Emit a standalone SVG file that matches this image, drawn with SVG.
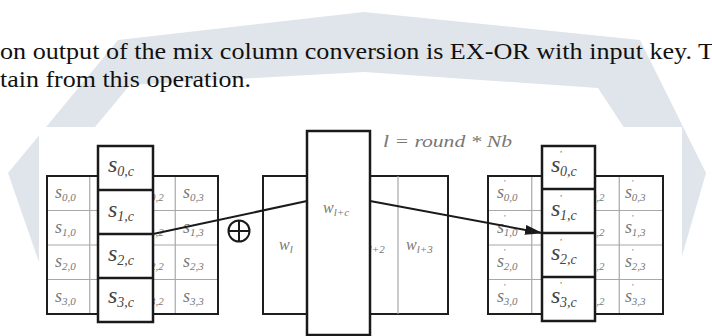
<svg xmlns="http://www.w3.org/2000/svg" width="712" height="336" viewBox="0 0 712 336" font-family="'Liberation Serif', 'DejaVu Serif', serif">
<style>
text{font-family:'Liberation Serif','Times New Roman','DejaVu Serif',serif}
.body{font-size:23px;fill:#111}
.lab{font-style:italic;font-size:18px;fill:#777}
.sub{font-size:11px}
.col{font-style:italic;font-size:24px;fill:#444}
.csub{font-size:14px}
.pr{font-size:9px;font-style:normal}
.outer{fill:none;stroke:#1e1e1e;stroke-width:2}
.box{fill:#fff;stroke:#1a1a1a;stroke-width:2.5}
.thin{stroke:#a8a8a8;stroke-width:1.2}
.sep{stroke:#1a1a1a;stroke-width:2.5}
.wl{font-style:italic;font-size:16px;fill:#777}
.conn{fill:none;stroke:#1a1a1a;stroke-width:2}
</style>
<defs>
<marker id="ah" markerUnits="userSpaceOnUse" markerWidth="18" markerHeight="10" refX="17" refY="5" orient="auto">
<path d="M0,0 L18,5 L0,10 Z" fill="#1a1a1a"/>
</marker>
</defs>
<rect width="712" height="336" fill="#fff"/>
<g id="watermark">
<polygon points="364,12 640,40 706,173 678,270 650,270 655,175 598,88 364,72 130,85 55,175 70,265 40,265 8,173 118,40" fill="#dfe5ea"/>
</g>
<g id="paragraph">
<text class="body" x="0" y="59" textLength="714" lengthAdjust="spacingAndGlyphs">on output of the mix column conversion is EX-OR with input key. T</text>
<text class="body" x="0" y="87" textLength="251" lengthAdjust="spacingAndGlyphs">tain from this operation.</text>
</g>
<rect x="39" y="127" width="643" height="209" fill="#fff"/>

<g id="state-in">
<rect x="47" y="176" width="171" height="138" fill="#fff"/>
<line class="thin" x1="47" y1="210.5" x2="218" y2="210.5"/>
<line class="thin" x1="47" y1="245" x2="218" y2="245"/>
<line class="thin" x1="47" y1="279.5" x2="218" y2="279.5"/>
<line class="thin" x1="89.75" y1="176" x2="89.75" y2="314"/>
<line class="thin" x1="175.25" y1="176" x2="175.25" y2="314"/>
<rect class="outer" x="47" y="176" width="171" height="138"/>
<text class="lab" x="55" y="198">s<tspan class="sub" dy="3">0,0</tspan></text>
<text class="lab" x="55" y="233">s<tspan class="sub" dy="3">1,0</tspan></text>
<text class="lab" x="55" y="267">s<tspan class="sub" dy="3">2,0</tspan></text>
<text class="lab" x="55" y="302">s<tspan class="sub" dy="3">3,0</tspan></text>
<text class="lab" x="143" y="198">s<tspan class="sub" dy="3">0,2</tspan></text>
<text class="lab" x="143" y="233">s<tspan class="sub" dy="3">1,2</tspan></text>
<text class="lab" x="143" y="267">s<tspan class="sub" dy="3">2,2</tspan></text>
<text class="lab" x="143" y="302">s<tspan class="sub" dy="3">3,2</tspan></text>
<text class="lab" x="183" y="198">s<tspan class="sub" dy="3">0,3</tspan></text>
<text class="lab" x="183" y="233">s<tspan class="sub" dy="3">1,3</tspan></text>
<text class="lab" x="183" y="267">s<tspan class="sub" dy="3">2,3</tspan></text>
<text class="lab" x="183" y="302">s<tspan class="sub" dy="3">3,3</tspan></text>
</g>
<g id="col-in">
<rect class="box" x="98" y="146" width="55" height="176"/>
<line class="sep" x1="98" y1="190" x2="153" y2="190"/>
<line class="sep" x1="98" y1="234" x2="153" y2="234"/>
<line class="sep" x1="98" y1="278" x2="153" y2="278"/>
<text class="col" x="108" y="172">s<tspan class="csub" dy="4">0,c</tspan></text>
<text class="col" x="108" y="217">s<tspan class="csub" dy="4">1,c</tspan></text>
<text class="col" x="108" y="261">s<tspan class="csub" dy="4">2,c</tspan></text>
<text class="col" x="108" y="303">s<tspan class="csub" dy="4">3,c</tspan></text>
</g>

<g id="xor">
<circle cx="239" cy="231" r="10.5" fill="#fff" stroke="#1a1a1a" stroke-width="2"/>
<line x1="228.5" y1="231" x2="249.5" y2="231" stroke="#1a1a1a" stroke-width="2"/>
<line x1="239" y1="220.5" x2="239" y2="241.5" stroke="#1a1a1a" stroke-width="2"/>
</g>

<g id="key-schedule">
<rect class="outer" x="263" y="176" width="44" height="138" fill="#fff"/>
<rect class="outer" x="370" y="176" width="78" height="138" fill="#fff"/>
<line class="thin" x1="398" y1="176" x2="398" y2="314"/>
<text class="wl" x="279" y="250">w<tspan class="sub" dy="3">l</tspan></text>
<text class="wl" x="358" y="250">w<tspan class="sub" dy="3">l+2</tspan></text>
<text class="wl" x="406" y="250">w<tspan class="sub" dy="3">l+3</tspan></text>
</g>
<g id="key-word">
<rect class="box" x="307" y="131" width="63" height="204"/>
<text class="wl" x="323" y="213">w<tspan class="sub" dy="3">l+c</tspan></text>
</g>
<g id="formula">
<text class="wl" x="383" y="147" font-size="18" textLength="129" lengthAdjust="spacingAndGlyphs" fill="#555">l = round * Nb</text>
</g>

<g id="state-out">
<rect x="488" y="176" width="175" height="138" fill="#fff"/>
<line class="thin" x1="488" y1="210.5" x2="663" y2="210.5"/>
<line class="thin" x1="488" y1="245" x2="663" y2="245"/>
<line class="thin" x1="488" y1="279.5" x2="663" y2="279.5"/>
<line class="thin" x1="531.75" y1="176" x2="531.75" y2="314"/>
<line class="thin" x1="619.25" y1="176" x2="619.25" y2="314"/>
<rect class="outer" x="488" y="176" width="175" height="138"/>
<text class="lab" x="497" y="198">s<tspan class="pr" dy="-12">'</tspan><tspan class="sub" dx="-2" dy="15">0,0</tspan></text>
<text class="lab" x="497" y="233">s<tspan class="pr" dy="-12">'</tspan><tspan class="sub" dx="-2" dy="15">1,0</tspan></text>
<text class="lab" x="497" y="267">s<tspan class="pr" dy="-12">'</tspan><tspan class="sub" dx="-2" dy="15">2,0</tspan></text>
<text class="lab" x="497" y="302">s<tspan class="pr" dy="-12">'</tspan><tspan class="sub" dx="-2" dy="15">3,0</tspan></text>
<text class="lab" x="584" y="198">s<tspan class="pr" dy="-12">'</tspan><tspan class="sub" dx="-2" dy="15">0,2</tspan></text>
<text class="lab" x="584" y="233">s<tspan class="pr" dy="-12">'</tspan><tspan class="sub" dx="-2" dy="15">1,2</tspan></text>
<text class="lab" x="584" y="267">s<tspan class="pr" dy="-12">'</tspan><tspan class="sub" dx="-2" dy="15">2,2</tspan></text>
<text class="lab" x="584" y="302">s<tspan class="pr" dy="-12">'</tspan><tspan class="sub" dx="-2" dy="15">3,2</tspan></text>
<text class="lab" x="625" y="198">s<tspan class="pr" dy="-12">'</tspan><tspan class="sub" dx="-2" dy="15">0,3</tspan></text>
<text class="lab" x="625" y="233">s<tspan class="pr" dy="-12">'</tspan><tspan class="sub" dx="-2" dy="15">1,3</tspan></text>
<text class="lab" x="625" y="267">s<tspan class="pr" dy="-12">'</tspan><tspan class="sub" dx="-2" dy="15">2,3</tspan></text>
<text class="lab" x="625" y="302">s<tspan class="pr" dy="-12">'</tspan><tspan class="sub" dx="-2" dy="15">3,3</tspan></text>
</g>
<g id="col-out">
<rect class="box" x="542" y="146" width="53" height="175"/>
<line class="sep" x1="542" y1="189" x2="595" y2="189"/>
<line class="sep" x1="542" y1="233" x2="595" y2="233"/>
<line class="sep" x1="542" y1="277" x2="595" y2="277"/>
<text class="col" x="551" y="172">s<tspan class="pr" dy="-15">'</tspan><tspan class="csub" dx="-2" dy="19">0,c</tspan></text>
<text class="col" x="551" y="216">s<tspan class="pr" dy="-15">'</tspan><tspan class="csub" dx="-2" dy="19">1,c</tspan></text>
<text class="col" x="551" y="260">s<tspan class="pr" dy="-15">'</tspan><tspan class="csub" dx="-2" dy="19">2,c</tspan></text>
<text class="col" x="551" y="303">s<tspan class="pr" dy="-15">'</tspan><tspan class="csub" dx="-2" dy="19">3,c</tspan></text>
</g>

<g id="connectors">
<line class="conn" x1="153" y1="234" x2="307" y2="201"/>
<line class="conn" x1="370" y1="201" x2="542" y2="233" marker-end="url(#ah)"/>
</g>
</svg>
